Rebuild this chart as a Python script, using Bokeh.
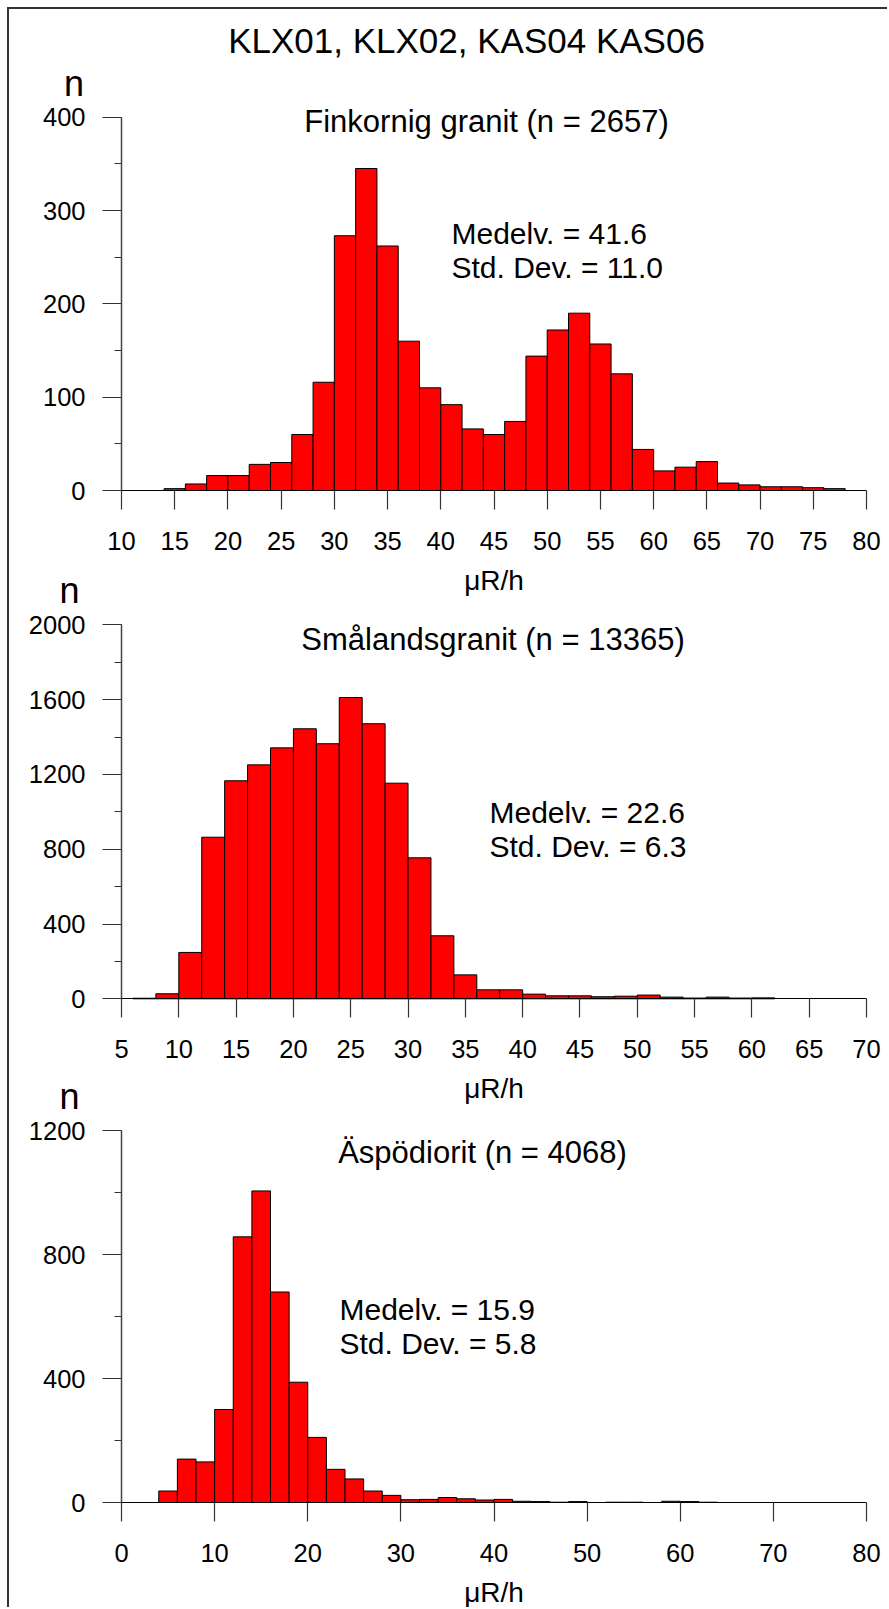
from bokeh.plotting import figure
from bokeh.models import Label, Range1d, SingleIntervalTicker, LinearAxis
from bokeh.layouts import column
from bokeh.embed import file_html
from bokeh.resources import INLINE

# ---------------- data ----------------
main_title = "KLX01, KLX02, KAS04 KAS06"
x_axis_label = "μR/h"
y_axis_label = "n"
bin_width = 2

fin_title = "Finkornig granit (n = 2657)"
fin_stats = ["Medelv. = 41.6", "Std. Dev. = 11.0"]
fin_left = [14, 16, 18, 20, 22, 24, 26, 28, 30, 32, 34, 36, 38, 40, 42, 44,
            46, 48, 50, 52, 54, 56, 58, 60, 62, 64, 66, 68, 70, 72, 74, 76]
fin_counts = [2, 7, 16, 16, 28, 30, 60, 116, 273, 345, 262, 160, 110, 92, 66, 60,
              74, 144, 172, 190, 157, 125, 44, 21, 25, 31, 8, 6, 4, 4, 3, 2]

sma_title = "Smålandsgranit (n = 13365)"
sma_stats = ["Medelv. = 22.6", "Std. Dev. = 6.3"]
sma_left = [6, 8, 10, 12, 14, 16, 18, 20, 22, 24, 26, 28, 30, 32, 34, 36,
            38, 40, 42, 44, 46, 48, 50, 52, 54, 56, 58, 60]
sma_counts = [3, 27, 248, 864, 1166, 1251, 1342, 1444, 1364, 1611, 1471, 1153, 754, 337, 128, 48,
              48, 25, 16, 16, 11, 14, 20, 9, 4, 9, 4, 5]

asp_title = "Äspödiorit (n = 4068)"
asp_stats = ["Medelv. = 15.9", "Std. Dev. = 5.8"]
asp_left = [4, 6, 8, 10, 12, 14, 16, 18, 20, 22, 24, 26, 28, 30, 32, 34,
            36, 38, 40, 42, 44, 46, 48, 50, 52, 54, 56, 58, 60, 62]
asp_counts = [37, 140, 131, 300, 857, 1005, 679, 388, 210, 107, 76, 37, 23, 9, 10, 16,
              12, 8, 10, 4, 3, 1, 3, 0, 1, 1, 0, 4, 3, 1]

# ---------------- layout / style ----------------
FONT = "Liberation Sans"
ORIGIN = 9            # page x/y of the canvas corner (7px margin + 2px border)
W, H = 878, 1598      # canvas size
AX_LEFT = 121         # page x of the y axes
AX_RIGHT = 866        # page x of the last x tick
TICK_FS = "25.5px"
MID = 0.3465          # distance baseline -> middle of the text box, in em

panels = [
    dict(key="p1", left=fin_left, counts=fin_counts, title=fin_title, stats=fin_stats,
         x0=10, x1=80, xstep=5, ytop=400, ystep=100,
         zero_px=490, ytop_px=116.7,
         title_xy=(486, 132), stats_xy=(451, 243), n_xy=(73.5, 95)),
    dict(key="p2", left=sma_left, counts=sma_counts, title=sma_title, stats=sma_stats,
         x0=5, x1=70, xstep=5, ytop=2000, ystep=400,
         zero_px=998.3, ytop_px=624.3,
         title_xy=(492.5, 650), stats_xy=(489, 822), n_xy=(69, 602)),
    dict(key="p3", left=asp_left, counts=asp_counts, title=asp_title, stats=asp_stats,
         x0=0, x1=80, xstep=10, ytop=1200, ystep=400,
         zero_px=1502, ytop_px=1130,
         title_xy=(482, 1163), stats_xy=(339, 1319), n_xy=(69, 1108)),
]

# default ranges = page pixels (y downwards), used only to place the text annotations
p = figure(width=W, height=H, output_backend="svg", toolbar_location=None,
           title=None, x_axis_location=None, y_axis_location=None,
           x_range=Range1d(ORIGIN, ORIGIN + W),
           y_range=Range1d(ORIGIN + H, ORIGIN))
p.min_border = 0
p.min_border_left = p.min_border_right = p.min_border_top = p.min_border_bottom = 0
p.outline_line_color = None
p.grid.visible = False
p.background_fill_color = "white"
p.border_fill_color = "white"


def lab(text, px, baseline, size_px, align):
    p.add_layout(Label(x=px, y=baseline - MID * size_px, text=text, text_font=FONT,
                       text_font_size=f"{size_px}px", text_align=align,
                       text_baseline="middle", text_color="black"))


lab(main_title, 466, 52, 35, "center")

for c in panels:
    k = c["key"]
    kx = (c["x1"] - c["x0"]) / (AX_RIGHT - AX_LEFT)
    ky = c["ytop"] / (c["zero_px"] - c["ytop_px"])

    def dx(px):
        return c["x0"] + (px - AX_LEFT) * kx

    def dy(py):
        return (c["zero_px"] - py) * ky

    p.extra_x_ranges[k] = Range1d(dx(ORIGIN), dx(ORIGIN + W))
    p.extra_y_ranges[k] = Range1d(dy(ORIGIN + H), dy(ORIGIN))

    right = [l + bin_width for l in c["left"]]
    p.quad(left=c["left"], right=right, bottom=0, top=c["counts"],
           fill_color="#FF0000", line_color="black", line_width=1,
           x_range_name=k, y_range_name=k)

    xa = LinearAxis(x_range_name=k, y_range_name=k, fixed_location=0,
                    bounds=(c["x0"], c["x1"]),
                    ticker=SingleIntervalTicker(interval=c["xstep"], num_minor_ticks=0))
    xa.major_tick_in = 0
    xa.major_tick_out = 19
    xa.minor_tick_in = 0
    xa.minor_tick_out = 0
    xa.major_label_standoff = 22
    xa.major_label_text_font = FONT
    xa.major_label_text_font_size = TICK_FS
    xa.major_label_text_color = "black"
    xa.axis_label = x_axis_label
    xa.axis_label_text_font = FONT
    xa.axis_label_text_font_size = "28px"
    xa.axis_label_text_font_style = "normal"
    xa.axis_label_text_color = "black"
    xa.axis_label_standoff = 12
    xa.axis_line_color = "black"
    xa.axis_line_width = 1.2
    xa.major_tick_line_color = "#333333"
    xa.major_tick_line_width = 1.2
    p.add_layout(xa, "below")

    ya = LinearAxis(x_range_name=k, y_range_name=k, fixed_location=c["x0"],
                    bounds=(0, c["ytop"]),
                    ticker=SingleIntervalTicker(interval=c["ystep"], num_minor_ticks=2))
    ya.major_tick_in = 0
    ya.major_tick_out = 19
    ya.minor_tick_in = 0
    ya.minor_tick_out = 7
    ya.major_label_standoff = 17
    ya.major_label_text_font = FONT
    ya.major_label_text_font_size = TICK_FS
    ya.major_label_text_color = "black"
    ya.axis_line_color = "#444444"
    ya.axis_line_width = 1.5
    ya.major_tick_line_color = "#333333"
    ya.major_tick_line_width = 1.2
    ya.minor_tick_line_color = "#333333"
    ya.minor_tick_line_width = 1.2
    p.add_layout(ya, "left")

    lab(y_axis_label, c["n_xy"][0], c["n_xy"][1], 36, "center")
    lab(c["title"], c["title_xy"][0], c["title_xy"][1], 31, "center")
    sx, sy = c["stats_xy"]
    for i, s in enumerate(c["stats"]):
        lab(s, sx, sy + 34 * i, 30, "left")

layout = column(p, styles={"margin-left": "7px", "margin-top": "7px",
                           "border-left": "2px solid #333333",
                           "border-top": "2px solid #333333"})

open("out.html", "w").write(file_html(layout, INLINE))
